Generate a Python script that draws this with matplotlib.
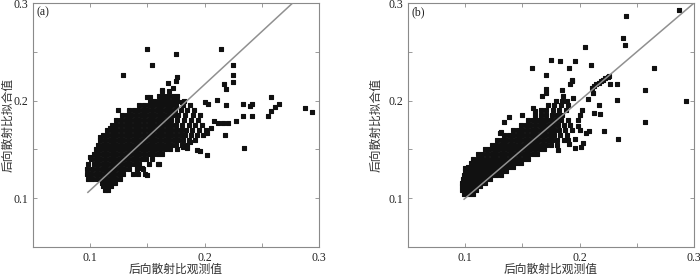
import matplotlib.pyplot as plt

plt.rcParams['font.family'] = ['Liberation Serif', 'Noto Sans CJK SC']

# dense core, read row by row: fitted value -> observed values
core_a = {
    0.108: [0.113, 0.116],
    0.112: [0.111, 0.115, 0.118],
    0.116: [0.110, 0.114, 0.118, 0.122],
    0.120: [0.098, 0.102, 0.106, 0.110, 0.114, 0.118, 0.122, 0.126],
    0.125: [0.097, 0.101, 0.105, 0.109, 0.113, 0.117, 0.121, 0.125, 0.129, 0.137, 0.142, 0.148],
    0.130: [0.097, 0.102, 0.106, 0.110, 0.114, 0.118, 0.122, 0.126, 0.130, 0.134, 0.141, 0.146],
    0.135: [0.098, 0.103, 0.107, 0.111, 0.115, 0.119, 0.123, 0.127, 0.131, 0.135, 0.139, 0.143, 0.151, 0.159],
    0.140: [0.101, 0.105, 0.109, 0.113, 0.117, 0.121, 0.125, 0.129, 0.133, 0.137, 0.141, 0.145, 0.149, 0.154],
    0.145: [0.103, 0.107, 0.111, 0.115, 0.119, 0.123, 0.127, 0.131, 0.135, 0.139, 0.143, 0.147, 0.151, 0.155, 0.159, 0.163],
    0.150: [0.105, 0.109, 0.113, 0.117, 0.121, 0.125, 0.129, 0.133, 0.137, 0.141, 0.145, 0.149, 0.153, 0.157,
            0.161, 0.165, 0.170, 0.176],
    0.155: [0.107, 0.111, 0.115, 0.119, 0.123, 0.127, 0.131, 0.135, 0.139, 0.143, 0.147, 0.151, 0.155, 0.159,
            0.163, 0.167, 0.171, 0.175, 0.180, 0.185],
    0.160: [0.109, 0.113, 0.117, 0.121, 0.125, 0.129, 0.133, 0.137, 0.141, 0.145, 0.149, 0.153, 0.157, 0.161,
            0.165, 0.169, 0.173, 0.177, 0.181, 0.186, 0.192],
    0.165: [0.111, 0.115, 0.119, 0.123, 0.127, 0.131, 0.135, 0.139, 0.143, 0.147, 0.151, 0.155, 0.159, 0.163,
            0.167, 0.171, 0.175, 0.179, 0.183, 0.188, 0.193, 0.199],
    0.170: [0.115, 0.119, 0.123, 0.127, 0.131, 0.135, 0.139, 0.143, 0.147, 0.151, 0.155, 0.159, 0.163, 0.167,
            0.171, 0.175, 0.179, 0.184, 0.189, 0.195, 0.201],
    0.175: [0.119, 0.123, 0.127, 0.131, 0.135, 0.139, 0.143, 0.147, 0.151, 0.155, 0.159, 0.163, 0.167, 0.171,
            0.175, 0.180, 0.186, 0.192, 0.198],
    0.180: [0.123, 0.127, 0.131, 0.135, 0.139, 0.143, 0.147, 0.151, 0.155, 0.159, 0.163, 0.167, 0.171, 0.176,
            0.182, 0.188, 0.194],
    0.185: [0.128, 0.132, 0.136, 0.140, 0.144, 0.148, 0.152, 0.156, 0.160, 0.164, 0.168, 0.172, 0.177, 0.183,
            0.190, 0.196],
    0.190: [0.134, 0.138, 0.142, 0.146, 0.150, 0.154, 0.158, 0.162, 0.166, 0.170, 0.174, 0.179, 0.185, 0.191],
    0.195: [0.143, 0.147, 0.151, 0.155, 0.159, 0.163, 0.167, 0.171, 0.175, 0.181, 0.187],
    0.200: [0.152, 0.156, 0.160, 0.164, 0.168, 0.172, 0.176, 0.182],
    0.205: [0.160, 0.164, 0.168, 0.172, 0.176],
    0.210: [0.163, 0.169],
}

# scattered points outside the core (a)
obs_a = [0.150, 0.175, 0.214, 0.154, 0.129, 0.225, 0.225, 0.225, 0.217, 0.219,
         0.176, 0.175, 0.168, 0.172, 0.1625, 0.1654, 0.1494, 0.152, 0.180,
         0.2003, 0.2033, 0.2105, 0.219, 0.2336, 0.2394, 0.2412, 0.2413, 0.2336, 0.2273,
         0.2583, 0.2653, 0.2613, 0.2578, 0.2551, 0.2878, 0.2939,
         0.2347, 0.2181, 0.2021, 0.2053, 0.2085, 0.212, 0.2161, 0.2205,
         0.2018, 0.1931, 0.1957, 0.1875, 0.1814, 0.1843, 0.1604, 0.1494, 0.1453, 0.1406,
         0.1246, 0.1333, 0.1173, 0.1086, 0.0998]
fit_a = [0.253, 0.248, 0.253, 0.236, 0.226, 0.236, 0.226, 0.219, 0.217, 0.2116,
         0.224, 0.220, 0.218, 0.2126, 0.211, 0.204, 0.2041, 0.204, 0.199,
         0.1989, 0.1962, 0.2006, 0.1955, 0.1968, 0.1945, 0.1965, 0.1845, 0.1839, 0.1794,
         0.2037, 0.1968, 0.1934, 0.1893, 0.1845, 0.1927, 0.188,
         0.1517, 0.1648, 0.1672, 0.1716, 0.1794, 0.1774, 0.1774, 0.1768,
         0.1443, 0.1491, 0.1487, 0.1579, 0.1525, 0.1517, 0.135, 0.1241, 0.1309, 0.1296,
         0.1904, 0.1843, 0.1717, 0.163, 0.1426]

core_b = {
    0.104: [0.099, 0.103, 0.107],
    0.108: [0.097, 0.101, 0.105, 0.109],
    0.112: [0.097, 0.101, 0.105, 0.109, 0.113],
    0.116: [0.097, 0.101, 0.105, 0.109, 0.113, 0.117],
    0.120: [0.098, 0.102, 0.106, 0.110, 0.114, 0.118, 0.122],
    0.124: [0.099, 0.103, 0.107, 0.111, 0.115, 0.119, 0.123, 0.127, 0.131],
    0.128: [0.100, 0.104, 0.108, 0.112, 0.116, 0.120, 0.124, 0.128, 0.132, 0.136],
    0.132: [0.102, 0.106, 0.110, 0.114, 0.118, 0.122, 0.126, 0.130, 0.134, 0.138, 0.142],
    0.136: [0.105, 0.109, 0.113, 0.117, 0.121, 0.125, 0.129, 0.133, 0.137, 0.141, 0.145, 0.149],
    0.140: [0.107, 0.111, 0.115, 0.119, 0.123, 0.127, 0.131, 0.135, 0.139, 0.143, 0.147, 0.151, 0.155],
    0.145: [0.111, 0.115, 0.119, 0.123, 0.127, 0.131, 0.135, 0.139, 0.143, 0.147, 0.151, 0.155, 0.159, 0.163],
    0.150: [0.117, 0.121, 0.125, 0.129, 0.133, 0.137, 0.141, 0.145, 0.149, 0.153, 0.157, 0.161, 0.165, 0.169],
    0.155: [0.123, 0.127, 0.131, 0.135, 0.139, 0.143, 0.147, 0.151, 0.155, 0.159, 0.163, 0.167, 0.171, 0.175, 0.180],
    0.160: [0.128, 0.132, 0.136, 0.140, 0.144, 0.148, 0.152, 0.156, 0.160, 0.164, 0.168, 0.172, 0.176, 0.180, 0.186],
    0.165: [0.134, 0.138, 0.142, 0.146, 0.150, 0.154, 0.158, 0.162, 0.166, 0.170, 0.174, 0.178, 0.183, 0.189],
    0.170: [0.142, 0.146, 0.150, 0.154, 0.158, 0.162, 0.166, 0.170, 0.174, 0.178, 0.182, 0.187, 0.193],
    0.175: [0.149, 0.153, 0.157, 0.161, 0.165, 0.169, 0.173, 0.177, 0.181, 0.186, 0.192],
    0.180: [0.155, 0.159, 0.163, 0.167, 0.171, 0.175, 0.179, 0.184, 0.190],
    0.185: [0.161, 0.166, 0.171, 0.176, 0.180, 0.185],
    0.190: [0.166, 0.171, 0.177, 0.182, 0.188],
    0.195: [0.172, 0.178, 0.184, 0.190],
    0.200: [0.179, 0.185],
}

obs_b = [0.0998, 0.130, 0.1315, 0.134, 0.138, 0.1497, 0.1595, 0.161, 0.1648,
         0.1581, 0.1706, 0.1747, 0.1828, 0.1957, 0.191, 0.2102, 0.205,
         0.2376, 0.2399, 0.2408, 0.2869, 0.2648,
         0.1709, 0.1706, 0.1668, 0.1846, 0.1857, 0.1887, 0.1929, 0.1916, 0.1936,
         0.2105, 0.2125, 0.2145, 0.2165, 0.2185, 0.2205, 0.2225, 0.2245, 0.2257,
         0.2266, 0.2329, 0.2573, 0.2329, 0.2930, 0.2167, 0.2128, 0.2176, 0.2076, 0.212,
         0.2573, 0.2213, 0.2056, 0.2085, 0.2338, 0.196, 0.2015, 0.1905, 0.1984, 0.2018, 0.2003, 0.1989, 0.1945,
         0.1814, 0.196, 0.1901, 0.2032, 0.2003]
fit_b = [0.131, 0.1665, 0.168, 0.178, 0.183, 0.1849, 0.1925, 0.1894, 0.1805,
         0.2332, 0.2263, 0.2414, 0.2407, 0.2403, 0.2335, 0.2369, 0.255,
         0.2646, 0.2571, 0.2871, 0.2929, 0.2332,
         0.2123, 0.2075, 0.2048, 0.2109, 0.2045, 0.1997, 0.2209, 0.2168, 0.2205,
         0.2127, 0.2145, 0.2165, 0.2185, 0.2200, 0.2215, 0.2230, 0.2245, 0.2253,
         0.2168, 0.2172, 0.2106, 0.2004, 0.1994, 0.1953, 0.1873, 0.1867, 0.2017, 0.2075,
         0.1781, 0.1692, 0.1665, 0.1689, 0.161, 0.161, 0.1525, 0.1559, 0.174, 0.1904, 0.1853, 0.1802, 0.2024,
         0.1494, 0.1512, 0.1597, 0.1563, 0.17]

# fitted lines
line_a_x = [0.098, 0.277]
line_a_y = [0.106, 0.300]
line_b_x = [0.099, 0.300]
line_b_y = [0.099, 0.300]

tick_vals = [0.05, 0.1, 0.15, 0.2, 0.25, 0.3]
tick_text = ['', '0.1', '', '0.2', '', '0.3']

XLABEL = '后向散射比观测值'
YLABEL = '后向散射比拟合值'


def draw_panel(ax, core, extra_obs, extra_fit, lx, ly, tag, ylab_x):
    obs = [x for fit, xs in core.items() for x in xs] + extra_obs
    fit = [fit for fit, xs in core.items() for _ in xs] + extra_fit
    ax.scatter(obs, fit, s=9, marker='s', c='#111111', edgecolors='#111111',
               linewidths=0.8, zorder=2)
    ax.plot(lx, ly, color='#909090', lw=1.1, zorder=3)

    ax.set_xlim(0.05, 0.3)
    ax.set_ylim(0.05, 0.3)
    ax.set_xticks(tick_vals)
    ax.set_xticklabels(tick_text)
    ax.set_yticks(tick_vals)
    ax.set_yticklabels(tick_text)
    ax.tick_params(direction='in', length=3, width=0.6, color='#8a8a8a',
                   top=True, right=True, labelsize=8.5, pad=3.5,
                   labelcolor='#222222')
    for sp in ax.spines.values():
        sp.set_color('#8a8a8a')
        sp.set_linewidth(0.8)

    ax.text(0.013, 0.962, tag, transform=ax.transAxes, fontsize=8.5,
            va='center', ha='left', color='#222222')
    ax.set_xlabel(XLABEL, fontsize=8.5, color='#333333')
    ax.xaxis.set_label_coords(0.5, -0.068)
    ax.set_ylabel(YLABEL, fontsize=8.5, color='#333333')
    ax.yaxis.set_label_coords(ylab_x, 0.5)


fig = plt.figure(figsize=(7, 2.78), dpi=100)
ax_a = fig.add_axes([0.0471, 0.1115, 0.4086, 0.8777])
ax_b = fig.add_axes([0.5829, 0.1115, 0.4086, 0.8777])

draw_panel(ax_a, core_a, obs_a, fit_a, line_a_x, line_a_y, '(a)', -0.066)
draw_panel(ax_b, core_b, obs_b, fit_b, line_b_x, line_b_y, '(b)', -0.090)

fig.savefig('out.png', dpi=100)
